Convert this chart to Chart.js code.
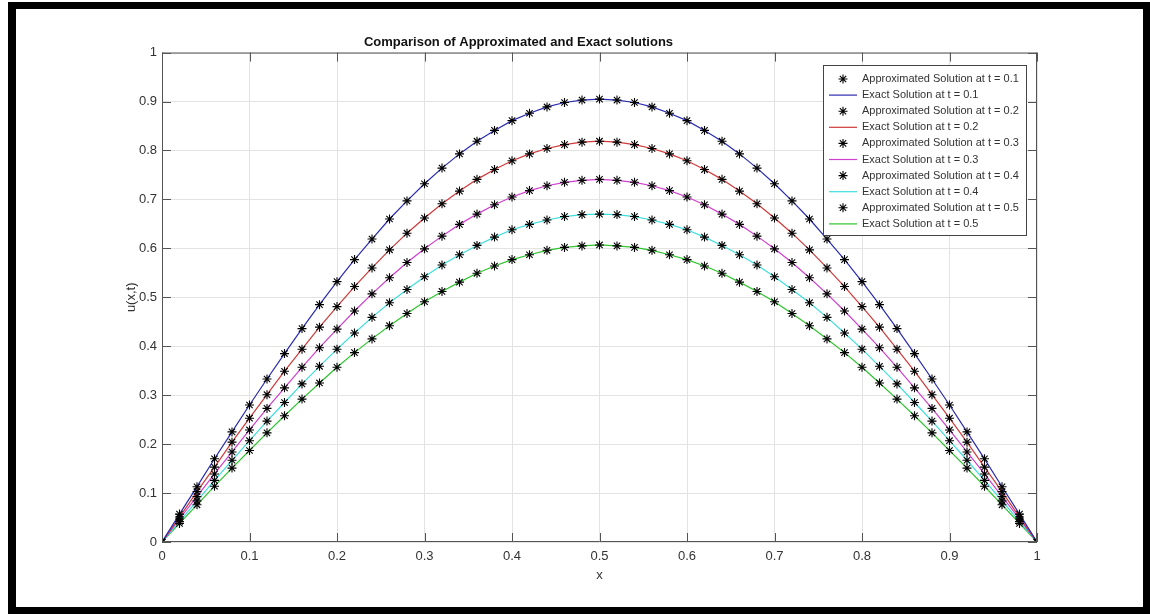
<!DOCTYPE html>
<html>
<head>
<meta charset="utf-8">
<script src="https://cdn.jsdelivr.net/npm/chart.js@4.4.0/dist/chart.umd.min.js"></script>
<style>
  html, body { margin: 0; padding: 0; background: #fff; }
  #wrap { position: relative; width: 1150px; height: 614px; overflow: hidden; }
  #frame {
    position: absolute; left: 8px; top: 2px; width: 1142px; height: 612px;
    box-sizing: border-box; border-style: solid; border-color: #000;
    border-width: 7px 7px 7px 8px;
  }
  #myChart { position: absolute; left: 0; top: 0; }
</style>
</head>
<body>
<div id="wrap">
  <div id="frame"></div>
  <canvas id="myChart" width="1150" height="614"></canvas>
</div>
<script>
// x positions of the computed points
const xValues = [0, 0.02, 0.04, 0.06, 0.08, 0.1, 0.12, 0.14, 0.16, 0.18, 0.2, 0.22, 0.24, 0.26, 0.28, 0.3,
  0.32, 0.34, 0.36, 0.38, 0.4, 0.42, 0.44, 0.46, 0.48, 0.5, 0.52, 0.54, 0.56, 0.58, 0.6, 0.62, 0.64, 0.66,
  0.68, 0.7, 0.72, 0.74, 0.76, 0.78, 0.8, 0.82, 0.84, 0.86, 0.88, 0.9, 0.92, 0.94, 0.96, 0.98, 1];

const tValues = [0.1, 0.2, 0.3, 0.4, 0.5];

// u(x,t), one list per time level
const u01 = [0, 0.057, 0.113, 0.170, 0.225, 0.280, 0.333, 0.385, 0.436, 0.485, 0.532, 0.577, 0.619, 0.660, 0.697, 0.732, 0.764, 0.793, 0.819, 0.841, 0.861, 0.876, 0.889, 0.898, 0.903, 0.905,
  0.903, 0.898, 0.889, 0.876, 0.861, 0.841, 0.819, 0.793, 0.764, 0.732, 0.697, 0.660, 0.619, 0.577, 0.532, 0.485, 0.436, 0.385, 0.333, 0.280, 0.225, 0.170, 0.113, 0.057, 0];
const u02 = [0, 0.051, 0.103, 0.153, 0.204, 0.253, 0.301, 0.349, 0.394, 0.439, 0.481, 0.522, 0.560, 0.597, 0.631, 0.662, 0.691, 0.717, 0.741, 0.761, 0.779, 0.793, 0.804, 0.812, 0.817, 0.819,
  0.817, 0.812, 0.804, 0.793, 0.779, 0.761, 0.741, 0.717, 0.691, 0.662, 0.631, 0.597, 0.560, 0.522, 0.481, 0.439, 0.394, 0.349, 0.301, 0.253, 0.204, 0.153, 0.103, 0.051, 0];
const u03 = [0, 0.047, 0.093, 0.139, 0.184, 0.229, 0.273, 0.315, 0.357, 0.397, 0.435, 0.472, 0.507, 0.540, 0.571, 0.599, 0.625, 0.649, 0.670, 0.689, 0.705, 0.718, 0.728, 0.735, 0.739, 0.741,
  0.739, 0.735, 0.728, 0.718, 0.705, 0.689, 0.670, 0.649, 0.625, 0.599, 0.571, 0.540, 0.507, 0.472, 0.435, 0.397, 0.357, 0.315, 0.273, 0.229, 0.184, 0.139, 0.093, 0.047, 0];
const u04 = [0, 0.042, 0.084, 0.126, 0.167, 0.207, 0.247, 0.285, 0.323, 0.359, 0.394, 0.427, 0.459, 0.489, 0.516, 0.542, 0.566, 0.587, 0.606, 0.623, 0.638, 0.649, 0.658, 0.665, 0.669, 0.670,
  0.669, 0.665, 0.658, 0.649, 0.638, 0.623, 0.606, 0.587, 0.566, 0.542, 0.516, 0.489, 0.459, 0.427, 0.394, 0.359, 0.323, 0.285, 0.247, 0.207, 0.167, 0.126, 0.084, 0.042, 0];
const u05 = [0, 0.038, 0.076, 0.114, 0.151, 0.187, 0.223, 0.258, 0.292, 0.325, 0.357, 0.387, 0.415, 0.442, 0.467, 0.491, 0.512, 0.531, 0.549, 0.564, 0.577, 0.587, 0.596, 0.602, 0.605, 0.607,
  0.605, 0.602, 0.596, 0.587, 0.577, 0.564, 0.549, 0.531, 0.512, 0.491, 0.467, 0.442, 0.415, 0.387, 0.357, 0.325, 0.292, 0.258, 0.223, 0.187, 0.151, 0.114, 0.076, 0.038, 0];

const uSeries = [u01, u02, u03, u04, u05];
const lineColors = ['#2b2bb0', '#d03a3a', '#d040d0', '#3fdede', '#2fc42f'];

const tickValues = [0, 0.1, 0.2, 0.3, 0.4, 0.5, 0.6, 0.7, 0.8, 0.9, 1];
const tickLabels = ['0', '0.1', '0.2', '0.3', '0.4', '0.5', '0.6', '0.7', '0.8', '0.9', '1'];

const axisColor = '#555555';
const textColor = '#333333';
const fontFamily = '"Liberation Sans", Arial, sans-serif';

function toPoints(ys) {
    return xValues.map((x, i) => ({x: x, y: ys[i]}));
}

function buildDatasets() {
    const datasets = [];
    tValues.forEach((t, k) => {
        datasets.push({
            label: 'Approximated Solution at t = ' + t,
            data: toPoints(uSeries[k]),
            showLine: false,
            pointStyle: 'star',
            pointRadius: 4.5,
            pointBorderWidth: 1.1,
            pointBorderColor: '#000',
            pointBackgroundColor: '#000',
            borderColor: '#000',
            order: 0
        });
        datasets.push({
            label: 'Exact Solution at t = ' + t,
            data: toPoints(uSeries[k]),
            showLine: true,
            pointRadius: 0,
            borderWidth: 1.2,
            borderColor: lineColors[k],
            tension: 0,
            order: 1
        });
    });
    return datasets;
}

function setTicks(scale) {
    scale.ticks = tickValues.map(v => ({value: v}));
}

// box around the axes with inward ticks, like the original figure
const boxTicks = {
    id: 'boxTicks',
    afterDatasetsDraw(chart) {
        const {ctx, chartArea: a, scales} = chart;
        ctx.save();
        ctx.strokeStyle = axisColor;
        ctx.lineWidth = 1;
        ctx.beginPath();
        ctx.moveTo(a.left, a.top + 0.5);
        ctx.lineTo(a.right, a.top + 0.5);
        ctx.moveTo(a.right - 0.5, a.top);
        ctx.lineTo(a.right - 0.5, a.bottom);
        ctx.moveTo(a.left + 0.5, a.top);
        ctx.lineTo(a.left + 0.5, a.bottom);
        ctx.moveTo(a.left, a.bottom - 0.5);
        ctx.lineTo(a.right, a.bottom - 0.5);
        const len = 9;
        tickValues.forEach(v => {
            const px = Math.round(scales.x.getPixelForValue(v)) + 0.5;
            ctx.moveTo(px, a.bottom);
            ctx.lineTo(px, a.bottom - len);
            ctx.moveTo(px, a.top);
            ctx.lineTo(px, a.top + len);
            const py = Math.round(scales.y.getPixelForValue(v)) + 0.5;
            ctx.moveTo(a.left, py);
            ctx.lineTo(a.left + len, py);
            ctx.moveTo(a.right, py);
            ctx.lineTo(a.right - len, py);
        });
        ctx.stroke();
        ctx.restore();
    }
};

// legend box drawn inside the plot area, top right
const boxLegend = {
    id: 'boxLegend',
    afterDraw(chart) {
        const {ctx} = chart;
        const sets = chart.data.datasets;
        const left = 823, top = 65, right = 1026, bottom = 235;
        const rowH = 16.1, firstY = 79;
        ctx.save();
        ctx.fillStyle = '#fff';
        ctx.fillRect(left, top, right - left, bottom - top);
        ctx.strokeStyle = '#444';
        ctx.lineWidth = 1;
        ctx.strokeRect(left + 0.5, top + 0.5, right - left, bottom - top);
        ctx.font = '11px ' + fontFamily;
        ctx.textBaseline = 'middle';
        ctx.textAlign = 'left';
        sets.forEach((ds, i) => {
            const y = firstY + i * rowH;
            ctx.beginPath();
            if (ds.showLine) {
                ctx.strokeStyle = ds.borderColor;
                ctx.lineWidth = 1.2;
                ctx.moveTo(829, y);
                ctx.lineTo(857, y);
            } else {
                const cx = 843, r = 4.5;
                ctx.strokeStyle = '#000';
                ctx.lineWidth = 1.1;
                ctx.moveTo(cx - r, y); ctx.lineTo(cx + r, y);
                ctx.moveTo(cx, y - r); ctx.lineTo(cx, y + r);
                const d = r * 0.707;
                ctx.moveTo(cx - d, y - d); ctx.lineTo(cx + d, y + d);
                ctx.moveTo(cx - d, y + d); ctx.lineTo(cx + d, y - d);
            }
            ctx.stroke();
            ctx.fillStyle = textColor;
            ctx.fillText(ds.label, 862, y);
        });
        ctx.restore();
    }
};

function renderChart() {
    const ctx = document.getElementById('myChart').getContext('2d');
    new Chart(ctx, {
        type: 'scatter',
        data: { datasets: buildDatasets() },
        options: {
            responsive: false,
            animation: false,
            layout: { padding: { left: 0, right: 113, top: 0, bottom: 0 } },
            plugins: {
                legend: { display: false },
                tooltip: { enabled: false },
                title: {
                    display: true,
                    text: 'Comparison of Approximated and Exact solutions',
                    color: '#111',
                    font: { family: fontFamily, size: 13, weight: 'bold' },
                    padding: { top: 35, bottom: 2 }
                }
            },
            scales: {
                x: {
                    type: 'linear',
                    min: 0,
                    max: 1,
                    afterBuildTicks: setTicks,
                    afterFit: s => { s.height = 72; },
                    grid: { color: '#e3e3e3', drawTicks: false },
                    border: { display: false },
                    ticks: {
                        padding: 7,
                        color: textColor,
                        font: { family: fontFamily, size: 13 },
                        callback: (v, i) => tickLabels[i]
                    },
                    title: {
                        display: true,
                        text: 'x',
                        color: textColor,
                        font: { family: fontFamily, size: 13 },
                        padding: { bottom: 31 }
                    }
                },
                y: {
                    type: 'linear',
                    min: 0,
                    max: 1,
                    afterBuildTicks: setTicks,
                    afterFit: s => { s.width = 162; },
                    grid: { color: '#e3e3e3', drawTicks: false },
                    border: { display: false },
                    ticks: {
                        padding: 5,
                        color: textColor,
                        font: { family: fontFamily, size: 13 },
                        callback: (v, i) => tickLabels[i]
                    },
                    title: {
                        display: true,
                        text: 'u(x,t)',
                        color: textColor,
                        font: { family: fontFamily, size: 13 },
                        padding: { top: 124 }
                    }
                }
            }
        },
        plugins: [boxTicks, boxLegend]
    });
}

renderChart();
</script>
</body>
</html>
